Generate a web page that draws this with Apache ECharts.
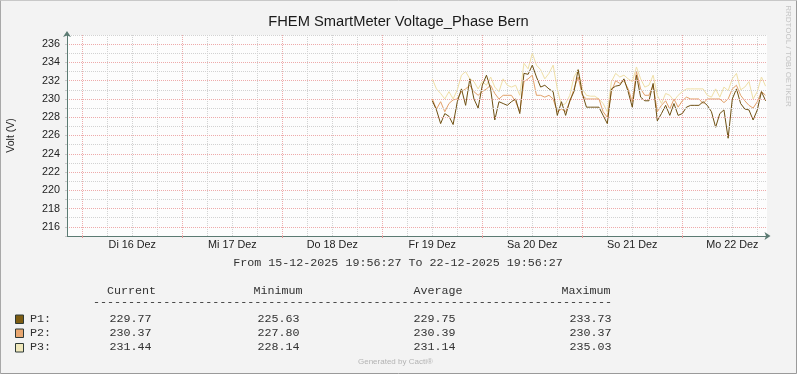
<!DOCTYPE html>
<html>
<head>
<meta charset="utf-8">
<script src="https://cdn.jsdelivr.net/npm/echarts@6/dist/echarts.min.js"></script>
<style>html,body{margin:0;padding:0;background:#f3f3f3;}#c{width:797px;height:374px;}</style>
</head>
<body>
<div id="c"></div>
<script>
// ---- data (hours counted from 15 Dez 00:00) ----
const xMin = 20.328;          // left edge of the time window (hours)
const xMax = 188.328;         // right edge (7 days later)
const dataStartHour = 108;    // first sample (19 Dez 12:00)
const dataStepHours = 1;
const seriesNames = ['P1', 'P2', 'P3'];
const p1 = [
 229.8,228.8,227.3,228.4,228.1,227.2,229.7,231.1,229.3,232.2,
 230.0,229.0,231.5,232.6,231.1,227.7,229.7,229.5,229.3,229.7,
 230.0,228.4,232.8,232.7,233.7,232.4,231.3,231.5,231.1,230.8,
 228.2,229.7,228.2,229.8,230.8,233.2,230.6,229.1,229.1,229.1,
 229.1,228.2,227.3,231.1,231.4,231.5,232.2,230.8,229.1,232.6,
 230.2,229.8,229.8,231.7,227.6,228.4,229.3,228.2,229.5,228.2,
 228.4,229.1,229.3,229.3,229.3,229.7,229.3,228.6,226.9,228.4,
 228.8,225.7,230.0,231.1,229.5,228.9,228.8,227.7,228.8,230.8,
 229.8
];
const p2 = [
 230.0,228.9,229.7,228.6,229.5,229.9,230.0,230.8,231.1,231.5,
 230.8,230.4,230.8,231.1,231.5,230.6,230.0,230.4,230.4,230.4,
 229.7,228.6,231.9,232.2,232.6,230.4,230.4,230.2,230.4,230.0,
 228.6,228.9,228.6,229.7,231.1,232.4,230.4,230.0,230.0,230.0,
 230.0,228.6,228.0,230.8,232.0,231.7,232.0,231.1,229.7,233.0,
 231.1,230.4,230.4,231.5,228.6,229.3,229.8,228.9,230.0,229.1,
 229.8,230.2,230.0,230.0,230.0,229.5,230.0,230.0,230.0,230.0,
 229.6,230.0,231.1,231.5,230.4,229.8,229.3,229.0,229.7,230.8,
 230.4
];
const p3 = [
 232.2,231.1,230.6,230.0,230.8,230.0,231.0,232.6,233.0,232.2,
 231.9,231.1,231.9,231.5,232.4,231.3,230.8,232.2,231.5,231.3,
 231.5,230.4,233.9,233.3,235.0,233.7,233.2,232.2,232.8,233.7,
 231.1,229.3,229.5,230.4,232.4,233.2,231.1,230.4,230.3,230.3,
 230.0,229.5,228.6,231.9,232.8,232.4,232.6,232.2,231.9,233.5,
 232.2,231.3,231.5,232.6,230.4,229.5,230.6,230.4,229.8,230.4,
 230.8,231.1,231.1,231.1,231.1,231.1,230.4,230.2,231.1,230.2,
 231.3,230.9,232.2,232.8,231.0,231.3,231.9,230.0,230.8,232.4,
 231.4
];
const dayLabelHours = [36, 60, 84, 108, 132, 156, 180];
const dayLabels = ['Di 16 Dez', 'Mi 17 Dez', 'Do 18 Dez', 'Fr 19 Dez', 'Sa 20 Dez', 'So 21 Dez', 'Mo 22 Dez'];
const midnightHours = [24, 48, 72, 96, 120, 144, 168];
const statHeaders = ['Current', 'Minimum', 'Average', 'Maximum'];
const statsP1 = ['229.77', '225.63', '229.75', '233.73'];
const statsP2 = ['230.37', '227.80', '230.39', '230.37'];
const statsP3 = ['231.44', '228.14', '231.14', '235.03'];
const titleText = 'FHEM SmartMeter Voltage_Phase Bern';
const rangeText = 'From 15-12-2025 19:56:27 To 22-12-2025 19:56:27';

// ---- styling ----
const lineColors = ['#6e5012', '#e2a16a', '#efdfa6'];
const boxColors = ['#7d5c12', '#e8a670', '#f0e8bb'];
const sans = '"Liberation Sans", Arial, sans-serif';
const mono = '"Liberation Mono", "Courier New", monospace';
const axisCol = '#5b7a72';
const minorCol = '#d2d2d2';
const majorCol = '#eeaaaa';
const plotLeft = 67, plotTop = 35, plotW = 700, plotH = 201;
const pxPerHour = plotW / (xMax - xMin);
const gridStart = 18; // 6h-aligned hour just left of the window, for the vertical grid helper axis

function toPairs(arr) { return arr.map((v, i) => [dataStartHour + i * dataStepHours, v]); }

const chart = echarts.init(document.getElementById('c'), null, { renderer: 'canvas' });

const graphics = [];
graphics.push({ type: 'polyline', shape: { points: [[0.5, 373.5], [0.5, 0.5], [796.5, 0.5]] }, style: { stroke: '#c8c8c8', fill: null, lineWidth: 1 } });
graphics.push({ type: 'polyline', shape: { points: [[0.5, 373.5], [796.5, 373.5], [796.5, 0.5]] }, style: { stroke: '#9a9a9a', fill: null, lineWidth: 1 } });
graphics.push({ type: 'polyline', shape: { points: [[0.5, 373.5], [0.5, 0.5]] }, style: { stroke: '#a8a8a8', fill: null, lineWidth: 1 } });
graphics.push({ type: 'text', x: 398.5, y: 22, style: { text: titleText, fontSize: 14.7, fontFamily: sans, fill: '#1a1a1a', align: 'center', verticalAlign: 'middle' } });
graphics.push({ type: 'text', x: 398, y: 263, style: { text: rangeText, fontSize: 11.7, fontFamily: mono, fill: '#333', align: 'center', verticalAlign: 'middle' } });
graphics.push({ type: 'text', x: 788, y: 56, rotation: -Math.PI / 2, style: { text: 'RRDTOOL / TOBI OETIKER', fontSize: 8, fontFamily: sans, fill: '#c4c4c4', align: 'center', verticalAlign: 'middle' } });
graphics.push({ type: 'text', x: 358, y: 362, style: { text: 'Generated by Cacti®', fontSize: 8, fontFamily: sans, fill: '#b4b4b4', align: 'left', verticalAlign: 'middle' } });
const headerX = [107, 253.5, 413.5, 561.5];
statHeaders.forEach((t, i) => graphics.push({ type: 'text', x: headerX[i], y: 291, style: { text: t, fontSize: 11.7, fontFamily: mono, fill: '#333', align: 'left', verticalAlign: 'middle' } }));
graphics.push({ type: 'text', x: 93, y: 302, style: { text: '-'.repeat(74), fontSize: 11.7, fontFamily: mono, fill: '#333', align: 'left', verticalAlign: 'middle' } });
const rowY = [319, 333, 347];
const boxY = [315, 329, 343.5];
const valueX = [109.5, 257.5, 413.5, 569.5];
[statsP1, statsP2, statsP3].forEach((st, r) => {
  graphics.push({ type: 'rect', shape: { x: 15.5, y: boxY[r], width: 8, height: 8.5 }, style: { fill: boxColors[r], stroke: '#2e3a36', lineWidth: 1 } });
  graphics.push({ type: 'text', x: 30, y: rowY[r], style: { text: seriesNames[r] + ':', fontSize: 11.7, fontFamily: mono, fill: '#333', align: 'left', verticalAlign: 'middle' } });
  st.forEach((v, i) => graphics.push({ type: 'text', x: valueX[i], y: rowY[r], style: { text: v, fontSize: 11.7, fontFamily: mono, fill: '#333', align: 'left', verticalAlign: 'middle' } }));
});

const option = {
  backgroundColor: '#f3f3f3',
  animation: false,
  grid: [
    { left: plotLeft, top: plotTop, width: plotW, height: plotH, show: true, backgroundColor: '#fdfdfd', borderWidth: 0, containLabel: false, outerBoundsMode: 'none' },
    // helper grid carrying the 6-hour vertical grid lines (same time scale, shifted so ticks fall on 00/06/12/18 h)
    { left: plotLeft - (xMin - gridStart) * pxPerHour, top: plotTop, width: plotW, height: plotH, show: false, containLabel: false, outerBoundsMode: 'none' }
  ],
  xAxis: [
    {
      gridIndex: 0, type: 'value', min: xMin, max: xMax, z: 5,
      axisLine: { show: true, onZero: false, lineStyle: { color: axisCol, width: 1 }, symbol: ['none', 'arrow'], symbolSize: [6, 6], symbolOffset: [0, 3.5] },
      axisTick: { show: true, customValues: midnightHours, length: 2, lineStyle: { color: '#e59a9a' } },
      axisLabel: {
        customValues: dayLabelHours, margin: 4, fontSize: 10.8, fontFamily: sans, color: '#222',
        formatter: function (v) { const i = dayLabelHours.indexOf(Math.round(v)); return i >= 0 ? dayLabels[i] : ''; }
      },
      splitLine: { show: false }
    },
    {
      gridIndex: 1, type: 'value', min: gridStart, max: gridStart + (xMax - xMin), interval: 6,
      axisLine: { show: false }, axisTick: { show: false }, axisLabel: { show: false },
      splitLine: { show: true, showMinLine: false, lineStyle: { color: [majorCol, minorCol, minorCol, minorCol], type: [1, 1], width: 1 } }
    }
  ],
  yAxis: [
    {
      gridIndex: 0, type: 'value', min: 215, max: 237, interval: 1, z: 5,
      name: 'Volt (V)', nameLocation: 'middle', nameGap: 50, nameRotate: 90,
      nameTextStyle: { fontSize: 10.5, fontFamily: sans, color: '#222' },
      axisLine: { show: true, onZero: false, lineStyle: { color: axisCol, width: 1 }, symbol: ['none', 'arrow'], symbolSize: [6, 6], symbolOffset: [0, 4] },
      axisTick: { show: true, length: 2, lineStyle: { color: '#c8c8c8' } },
      axisLabel: { margin: 7, fontSize: 10.8, fontFamily: sans, color: '#222', formatter: function (v) { return v % 2 === 0 ? String(v) : ''; } },
      splitLine: { show: true, lineStyle: { color: [minorCol, majorCol], type: [1, 1], width: 1 } }
    },
    { gridIndex: 1, type: 'value', min: 215, max: 237, show: false, splitLine: { show: false } }
  ],
  series: [
    { type: 'line', name: seriesNames[2], data: toPairs(p3), showSymbol: false, z: 2, lineStyle: { color: lineColors[2], width: 1 }, itemStyle: { color: lineColors[2] } },
    { type: 'line', name: seriesNames[1], data: toPairs(p2), showSymbol: false, z: 3, lineStyle: { color: lineColors[1], width: 1 }, itemStyle: { color: lineColors[1] } },
    { type: 'line', name: seriesNames[0], data: toPairs(p1), showSymbol: false, z: 4, lineStyle: { color: lineColors[0], width: 1 }, itemStyle: { color: lineColors[0] } }
  ],
  graphic: graphics
};
chart.setOption(option);
</script>
</body>
</html>
